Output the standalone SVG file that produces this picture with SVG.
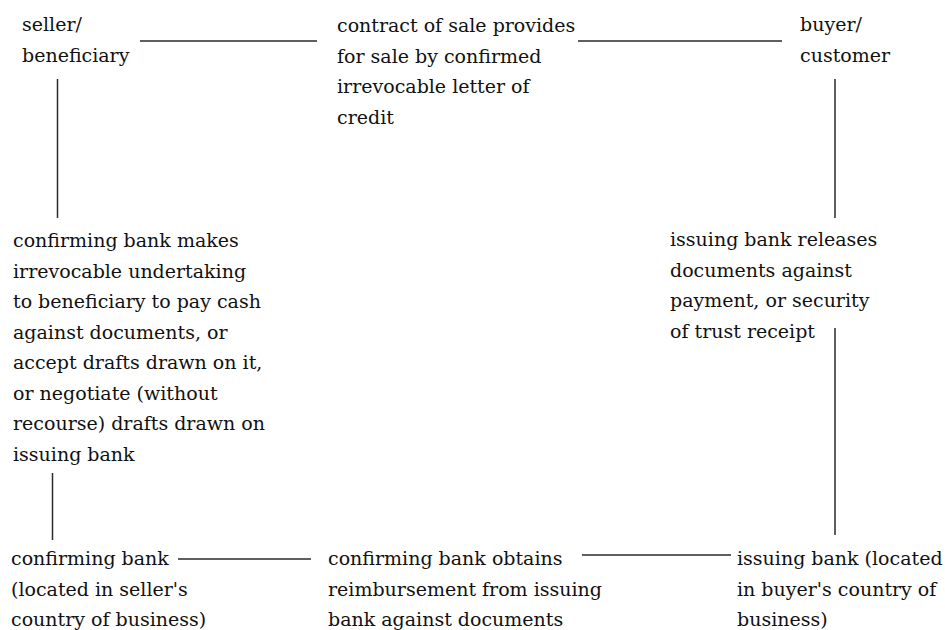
<svg xmlns="http://www.w3.org/2000/svg" width="945" height="630" viewBox="0 0 945 630">
<style>
.t text{font-family:'DejaVu Serif','Liberation Serif',serif;font-size:19px;fill:#111}
.c line{stroke:#2a2a2a;stroke-width:1.5}
</style>
<rect width="945" height="630" fill="#fff"/>
<g class="t">
<g id="seller"><text x="22" y="31"><tspan x="22">seller/</tspan><tspan x="22" dy="30.5">beneficiary</tspan></text></g>
<g id="contract"><text x="337" y="32"><tspan x="337">contract of sale provides</tspan><tspan x="337" dy="30.5">for sale by confirmed</tspan><tspan x="337" dy="30.5">irrevocable letter of</tspan><tspan x="337" dy="30.5">credit</tspan></text></g>
<g id="buyer"><text x="800" y="31"><tspan x="800">buyer/</tspan><tspan x="800" dy="30.5">customer</tspan></text></g>
<g id="undertaking"><text x="13" y="247"><tspan x="13">confirming bank makes</tspan><tspan x="13" dy="30.5">irrevocable undertaking</tspan><tspan x="13" dy="30.5">to beneficiary to pay cash</tspan><tspan x="13" dy="30.5">against documents, or</tspan><tspan x="13" dy="30.5">accept drafts drawn on it,</tspan><tspan x="13" dy="30.5">or negotiate (without</tspan><tspan x="13" dy="30.5">recourse) drafts drawn on</tspan><tspan x="13" dy="30.5">issuing bank</tspan></text></g>
<g id="releases"><text x="670" y="246"><tspan x="670">issuing bank releases</tspan><tspan x="670" dy="30.5">documents against</tspan><tspan x="670" dy="30.5">payment, or security</tspan><tspan x="670" dy="30.5">of trust receipt</tspan></text></g>
<g id="confirming"><text x="11" y="565"><tspan x="11">confirming bank</tspan><tspan x="11" dy="30.5">(located in seller's</tspan><tspan x="11" dy="30.5">country of business)</tspan></text></g>
<g id="reimbursement"><text x="328" y="565"><tspan x="328">confirming bank obtains</tspan><tspan x="328" dy="30.5">reimbursement from issuing</tspan><tspan x="328" dy="30.5">bank against documents</tspan></text></g>
<g id="issuing"><text x="737" y="565"><tspan x="737">issuing bank (located</tspan><tspan x="737" dy="30.5">in buyer's country of</tspan><tspan x="737" dy="30.5">business)</tspan></text></g>
</g>
<g class="c" id="connectors">
<line x1="140" y1="41" x2="317" y2="41"/>
<line x1="578" y1="41" x2="782" y2="41"/>
<line x1="57.5" y1="79" x2="57.5" y2="218"/>
<line x1="835" y1="79" x2="835" y2="218"/>
<line x1="835" y1="328" x2="835" y2="535"/>
<line x1="52.5" y1="473" x2="52.5" y2="540"/>
<line x1="178" y1="559" x2="311" y2="559"/>
<line x1="582" y1="555" x2="731" y2="555"/>
</g>
</svg>
